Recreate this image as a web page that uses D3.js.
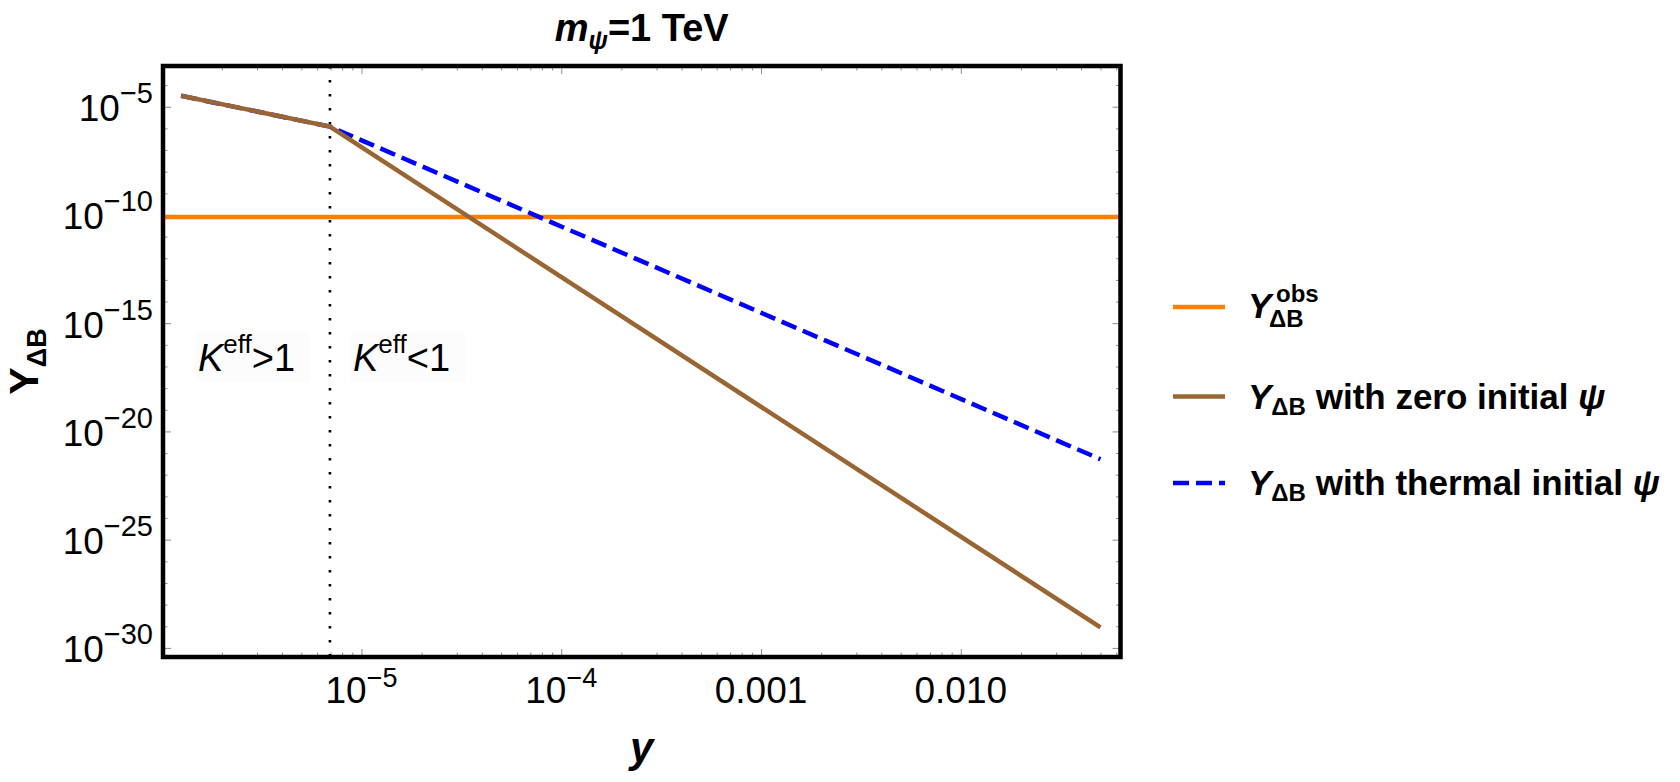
<!DOCTYPE html>
<html>
<head>
<meta charset="utf-8">
<script src="https://cdnjs.cloudflare.com/ajax/libs/d3/7.8.5/d3.min.js"></script>
<style>
  body { margin: 0; background: #fff; }
  svg { display: block; font-family: "Liberation Sans", Arial, sans-serif; }
  .tick line { stroke: #8c8c8c; stroke-width: 1; }
  .domain { display: none; }
</style>
</head>
<body>
<div id="chart"></div>
<script>
// values (x = coupling y, log-log)
var couplings      = [1.25e-6, 6.95e-6, 0.05];
var zeroInitial    = [3.2e-5, 1.2e-6, 8.9e-30];
var thermalInitial = [3.2e-5, 1.2e-6, 5.2e-22];
var yObs = 8.0e-11;
var kEffBoundary = 6.95e-6;

var xMajorTicks = [1e-5, 1e-4, 1e-3, 1e-2];
var xTickLabels = [["10", "\u22125"], ["10", "\u22124"], ["0.001", ""], ["0.010", ""]];
var yMajorTicks = [1e-5, 1e-10, 1e-15, 1e-20, 1e-25, 1e-30];
var yTickExps   = ["\u22125", "\u221210", "\u221215", "\u221220", "\u221225", "\u221230"];
var xDomain = [1.015e-6, 0.063];
var yDomain = [3.8e-31, 7.6e-4];

var legendNames  = ["obs", " with zero initial ", " with thermal initial "];
var legendColors = ["#ff7f00", "#996633", "#0000ff"];
var legendDash   = [null, null, "16,7"];

var W = 1680, H = 782;
var plotL = 163, plotR = 1120.5, plotT = 66, plotB = 657;

var svg = d3.select("#chart").append("svg")
    .attr("width", W)
    .attr("height", H);

var x = d3.scaleLog().domain(xDomain).range([plotL, plotR]);
var y = d3.scaleLog().domain(yDomain).range([plotB, plotT]);

// minor ticks positions
var xMinor = [];
for (var n = -7; n <= -1; n++) {
    for (var k = 2; k <= 9; k++) {
        var v = k * Math.pow(10, n);
        if (v > xDomain[0] && v < xDomain[1]) xMinor.push(v);
    }
}
var yMinor = [];
for (var e = -31; e <= -3; e++) {
    var v2 = Math.pow(10, e);
    if (v2 > yDomain[0] && v2 < yDomain[1] && e % 5 !== 0) yMinor.push(v2);
}

function ticks(axis, vals, size, tr) {
    svg.append("g")
        .attr("transform", tr)
        .call(axis.tickValues(vals).tickSize(size).tickFormat(""));
}
ticks(d3.axisTop(x), xMajorTicks, 8, "translate(0," + plotB + ")");
ticks(d3.axisTop(x), xMinor, 4.5, "translate(0," + plotB + ")");
ticks(d3.axisBottom(x), xMajorTicks, 8, "translate(0," + plotT + ")");
ticks(d3.axisBottom(x), xMinor, 4.5, "translate(0," + plotT + ")");
ticks(d3.axisRight(y), yMajorTicks, 8, "translate(" + plotL + ",0)");
ticks(d3.axisRight(y), yMinor, 4.5, "translate(" + plotL + ",0)");
ticks(d3.axisLeft(y), yMajorTicks, 8, "translate(" + plotR + ",0)");
ticks(d3.axisLeft(y), yMinor, 4.5, "translate(" + plotR + ",0)");

// K_eff annotation backgrounds sit under the lines
function kBox(x0) {
    svg.append("rect")
        .attr("x", x0 - 2).attr("y", 332).attr("width", 114).attr("height", 50)
        .attr("fill", "#fcfcfc");
}
kBox(198);
kBox(353);

// data lines
svg.append("clipPath").attr("id", "clip")
    .append("rect").attr("x", plotL).attr("y", plotT)
    .attr("width", plotR - plotL).attr("height", plotB - plotT);

var plot = svg.append("g").attr("clip-path", "url(#clip)");

var line = d3.line()
    .x(function(d) { return x(d[0]); })
    .y(function(d) { return y(d[1]); });

// dotted K_eff boundary
plot.append("line")
    .attr("x1", x(kEffBoundary)).attr("x2", x(kEffBoundary))
    .attr("y1", plotT).attr("y2", plotB)
    .attr("stroke", "#000")
    .attr("stroke-width", 2.6)
    .attr("stroke-dasharray", "2.6,11.4");

plot.append("path")
    .attr("d", line([[xDomain[0], yObs], [xDomain[1], yObs]]))
    .attr("fill", "none")
    .attr("stroke", legendColors[0])
    .attr("stroke-width", 4.5);

plot.append("path")
    .attr("d", line(d3.zip(couplings, thermalInitial)))
    .attr("fill", "none")
    .attr("stroke", legendColors[2])
    .attr("stroke-width", 4.5)
    .attr("stroke-dasharray", legendDash[2]);

plot.append("path")
    .attr("d", line(d3.zip(couplings, zeroInitial)))
    .attr("fill", "none")
    .attr("stroke", legendColors[1])
    .attr("stroke-width", 4.5);

// frame
svg.append("rect")
    .attr("x", plotL).attr("y", plotT)
    .attr("width", plotR - plotL).attr("height", plotB - plotT)
    .attr("fill", "none")
    .attr("stroke", "#000")
    .attr("stroke-width", 4.5);

// x tick labels
xMajorTicks.forEach(function(v, i) {
    var t = svg.append("text")
        .attr("x", x(v)).attr("y", 702.5)
        .attr("text-anchor", "middle")
        .attr("font-size", 37);
    t.append("tspan").text(xTickLabels[i][0]);
    if (xTickLabels[i][1]) {
        t.append("tspan").attr("dy", -16).attr("font-size", 27).text(xTickLabels[i][1]);
    }
});

// y tick labels
yMajorTicks.forEach(function(v, i) {
    var t = svg.append("text")
        .attr("x", 153).attr("y", y(v) + 14.5)
        .attr("text-anchor", "end")
        .attr("font-size", 37);
    t.append("tspan").text("10");
    t.append("tspan").attr("dy", -18).attr("font-size", 29).text(yTickExps[i]);
});

// axis titles
svg.append("text")
    .attr("x", (plotL + plotR) / 2).attr("y", 762)
    .attr("text-anchor", "middle")
    .attr("font-size", 42)
    .attr("font-weight", "bold")
    .attr("font-style", "italic")
    .text("y");

var yl = svg.append("text")
    .attr("transform", "translate(38," + ((plotT + plotB) / 2) + ") rotate(-90)")
    .attr("text-anchor", "middle")
    .attr("font-size", 41)
    .attr("font-weight", "bold");
yl.append("tspan").text("Y");
yl.append("tspan").attr("dy", 8).attr("font-size", 27).text("\u0394B");

// title
var tt = svg.append("text")
    .attr("x", (plotL + plotR) / 2).attr("y", 41)
    .attr("text-anchor", "middle")
    .attr("font-size", 38)
    .attr("font-weight", "bold");
tt.append("tspan").attr("font-style", "italic").text("m");
tt.append("tspan").attr("font-style", "italic").attr("font-size", 25).attr("dy", 8).text("\u03c8");
tt.append("tspan").attr("dy", -8).text("=1 TeV");

// K_eff annotations
function kLabel(x0, rel) {
    var t = svg.append("text")
        .attr("x", x0).attr("y", 370.5)
        .attr("font-size", 38);
    t.append("tspan").attr("font-style", "italic").text("K");
    t.append("tspan").attr("dy", -18).attr("font-size", 26).text("eff");
    t.append("tspan").attr("dy", 18).text(rel + "1");
}
kLabel(198, ">");
kLabel(353, "<");

// legend
var legendY = [307, 396.5, 483];
var lx = 1173;
legendY.forEach(function(ly, i) {
    svg.append("line")
        .attr("x1", lx).attr("x2", lx + 52)
        .attr("y1", ly).attr("y2", ly)
        .attr("stroke", legendColors[i])
        .attr("stroke-width", 4.5)
        .attr("stroke-dasharray", legendDash[i]);

    if (i === 0) {
        svg.append("text")
            .attr("x", lx + 75).attr("y", ly + 11)
            .attr("font-size", 35).attr("font-weight", "bold").attr("font-style", "italic")
            .text("Y");
        svg.append("text")
            .attr("x", lx + 103).attr("y", ly - 5)
            .attr("font-size", 24).attr("font-weight", "bold")
            .text(legendNames[0]);
        svg.append("text")
            .attr("x", lx + 96).attr("y", ly + 20)
            .attr("font-size", 24).attr("font-weight", "bold")
            .text("\u0394B");
    } else {
        var t = svg.append("text")
            .attr("x", lx + 75).attr("y", ly + 12)
            .attr("font-size", 35).attr("font-weight", "bold");
        t.append("tspan").attr("font-style", "italic").text("Y");
        t.append("tspan").attr("dy", 6).attr("font-size", 24).text("\u0394B");
        t.append("tspan").attr("dy", -6).text(legendNames[i]);
        t.append("tspan").attr("font-style", "italic").text("\u03c8");
    }
});
</script>
</body>
</html>
